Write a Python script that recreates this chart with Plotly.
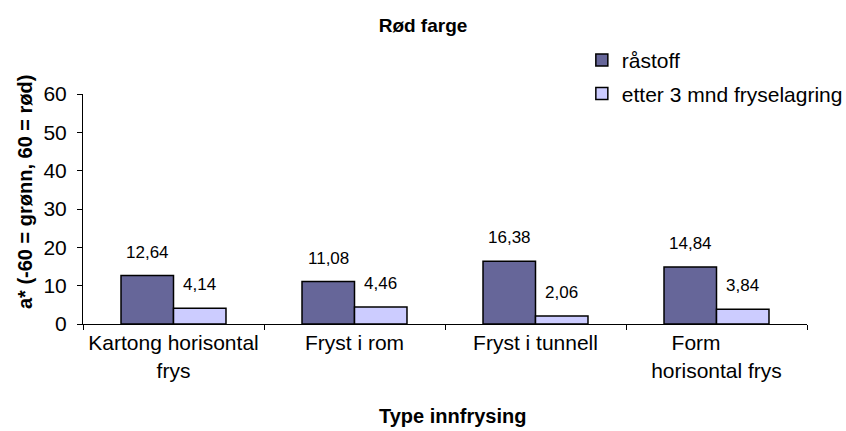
import plotly.graph_objects as go

categories = ["Kartong horisontal<br>frys", "Fryst i rom", "Fryst i tunnell", "Form       <br>horisontal frys"]
raastoff = [12.64, 11.08, 16.38, 14.84]
etter_3_mnd = [4.14, 4.46, 2.06, 3.84]
series_names = ["råstoff", "etter 3 mnd fryselagring"]
colors = ["#666699", "#CCCCFF"]

BARGAP = 0.42

def fmt(v):
    return f"{v:.2f}".replace(".", ",")

fig = go.Figure()
for k, (name, vals, col) in enumerate(zip(series_names, [raastoff, etter_3_mnd], colors)):
    fig.add_trace(go.Bar(
        x=categories, y=vals, name=name, legendgroup=f"g{k}",
        marker=dict(color=col, line=dict(color="black", width=1.5)),
    ))

# value labels above bars, placed through the axis scales
bw = (1 - BARGAP) / 2
for s, vals in enumerate([raastoff, etter_3_mnd]):
    off = (s - 0.5) * bw
    for i, v in enumerate(vals):
        fig.add_annotation(
            x=i + off, y=v, xref="x", yref="y", text=fmt(v),
            showarrow=False, yanchor="bottom", yshift=12,
            font=dict(family="Arial", size=17, color="black"),
        )

# axis titles
fig.add_annotation(
    text="<b>a* (-60 = grønn, 60 = rød)</b>", textangle=-90,
    xref="paper", yref="paper", x=-0.08, y=0.574, xanchor="center", yanchor="middle",
    showarrow=False, font=dict(family="Arial", size=20, color="black"),
)
fig.add_annotation(
    text="<b>Type innfrysing</b>",
    xref="paper", yref="paper", x=0.51, y=-0.455, xanchor="center", yanchor="bottom",
    showarrow=False, font=dict(family="Arial", size=20, color="black"),
)

fig.update_layout(
    width=846, height=431,
    margin=dict(l=83, r=39, t=94, b=107, autoexpand=False),
    paper_bgcolor="white", plot_bgcolor="white",
    barmode="group", bargap=BARGAP, bargroupgap=0,
    font=dict(family="Arial", size=21, color="black"),
    title=dict(text="<b>Rød farge</b>", x=0.5, xanchor="center", y=0.942, yanchor="middle",
               font=dict(family="Arial", size=19, color="black")),
    legend=dict(x=0.689, y=1.235, xanchor="left", yanchor="top",
                font=dict(family="Arial", size=21), bgcolor="rgba(0,0,0,0)",
                traceorder="grouped", tracegroupgap=3, itemwidth=30),
)
fig.update_xaxes(
    showline=True, linecolor="black", linewidth=1,
    ticks="outside", tickson="boundaries", ticklen=5, tickcolor="black",
    tickfont=dict(family="Arial", size=21),
)
fig.update_yaxes(
    range=[0, 60], dtick=10, showgrid=False, zeroline=False,
    showline=True, linecolor="black", linewidth=1,
    ticks="outside", ticklen=5, tickcolor="black", ticklabelstandoff=6,
    tickfont=dict(family="Arial", size=21),
)

fig.write_html(
    "out.html",
    config={"displayModeBar": False},
    post_script="document.body.style.margin='0';document.body.style.overflow='hidden';",
)
